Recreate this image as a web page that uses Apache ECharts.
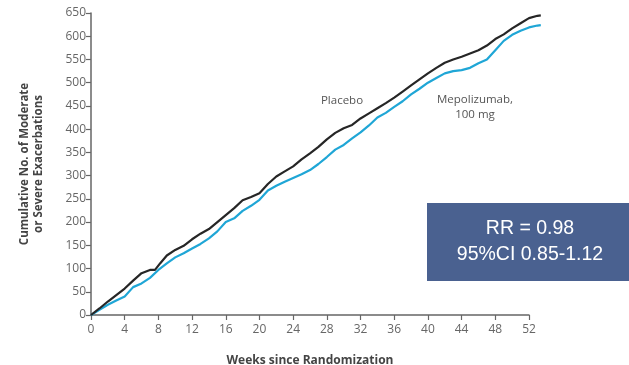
<!DOCTYPE html>
<html>
<head>
<meta charset="utf-8">
<script src="https://cdn.jsdelivr.net/npm/echarts@6/dist/echarts.min.js"></script>
<style>
html,body{margin:0;padding:0;background:#fff;}
#chart{width:629px;height:365px;}
</style>
</head>
<body>
<div id="chart"></div>
<script>
var placeboWeeks = [0,1,2,3,4,5,6,7,7.6,8.2,9,10,11,12,13,14,15,16,17,18,19,20,21,22,23,24,25,26,27,28,29,30,31,32,33,34,35,36,37,38,39,40,41,42,43,44,45,46,47,48,49,50,51,52,53,53.4];
var placeboValues = [0,14,29,43,57,74,90,97,97,111,128,140,149,163,175,185,200,215,230,247,254,262,282,298,309,320,335,348,362,378,392,402,409,423,434,445,456,468,481,494,507,520,532,543,550,556,563,570,580,594,604,617,628,639,644,645];
var mepoWeeks = [0,1,2,3,4,5,6,7,8,9,10,11,12,13,14,15,16,17,18,19,20,21,22,23,24,25,26,27,28,29,30,31,32,33,34,35,36,37,38,39,40,41,42,43,44,45,46,47,48,49,50,51,52,53,53.4];
var mepoValues = [0,11,22,31,40,60,68,80,97,111,124,133,143,153,165,180,200,208,224,235,248,268,278,287,295,303,312,325,340,356,366,380,393,408,425,435,448,460,475,487,500,510,520,525,527,532,542,550,570,590,603,612,619,623,624];
var xTicks = [0,4,8,12,16,20,24,28,32,36,40,44,48,52];
var yTicks = [0,50,100,150,200,250,300,350,400,450,500,550,600,650];
var followUpEnd = 53.4; // last plotted week (curves run slightly past the 52 tick)

function pairs(xs, ys){ return xs.map(function(x,i){ return [x, ys[i]]; }); }

var chart = echarts.init(document.getElementById('chart'));
var axisColor = '#666';
var labelFont = '"Open Sans", "Noto Sans", sans-serif';
var gLeft = 91, gTop = 13, gBottom = 50, gRight = 100;
var plotW = 629 - gLeft - gRight;
var extRight = 629 - gLeft - plotW * followUpEnd / xTicks[xTicks.length-1];
chart.setOption({
  animation: false,
  grid: [
    {left: gLeft, right: gRight, top: gTop, bottom: gBottom, containLabel: false, outerBoundsMode: 'none'},
    {left: gLeft, right: extRight, top: gTop, bottom: gBottom, containLabel: false, outerBoundsMode: 'none'}
  ],
  xAxis: [{
    gridIndex: 0, type: 'value', min: xTicks[0], max: xTicks[xTicks.length-1], interval: 4,
    name: 'Weeks since Randomization', nameLocation: 'middle', nameGap: 40,
    nameTextStyle: {fontFamily: labelFont, fontSize: 12, fontWeight: 'bold', color: '#444'},
    axisLine: {lineStyle: {color: axisColor, width: 1.5}},
    axisTick: {show: true, length: 5, lineStyle: {color: axisColor, width: 1.2}},
    axisLabel: {fontFamily: labelFont, fontSize: 12, color: '#666', margin: 9},
    splitLine: {show: false}
  }, {
    gridIndex: 1, type: 'value', min: 0, max: followUpEnd, show: false, splitLine: {show: false}
  }],
  yAxis: [{
    gridIndex: 0, type: 'value', min: yTicks[0], max: yTicks[yTicks.length-1], interval: 50,
    name: 'Cumulative No. of Moderate\nor Severe Exacerbations', nameLocation: 'middle', nameGap: 45, nameRotate: 90,
    nameTextStyle: {fontFamily: labelFont, fontSize: 11.5, fontWeight: 'bold', color: '#444', lineHeight: 14},
    axisLine: {show: true, lineStyle: {color: axisColor, width: 1.5}},
    axisTick: {show: true, length: 5, lineStyle: {color: axisColor, width: 1.2}},
    axisLabel: {fontFamily: labelFont, fontSize: 12, color: '#666', margin: 5},
    splitLine: {show: false}
  }, {
    gridIndex: 1, type: 'value', min: yTicks[0], max: yTicks[yTicks.length-1], show: false, splitLine: {show: false}
  }],
  series: [
    {name: 'Mepolizumab, 100 mg', type: 'line', xAxisIndex: 1, yAxisIndex: 1, data: pairs(mepoWeeks, mepoValues), showSymbol: false,
     lineStyle: {color: '#1fa6d6', width: 2.2}, z: 2},
    {name: 'Placebo', type: 'line', xAxisIndex: 1, yAxisIndex: 1, data: pairs(placeboWeeks, placeboValues), showSymbol: false,
     lineStyle: {color: '#262626', width: 2.2}, z: 3}
  ],
  graphic: [
    {type: 'text', x: 342, y: 101, style: {text: 'Placebo', font: '11.5px "Open Sans", sans-serif', fill: '#555', align: 'center', verticalAlign: 'middle'}},
    {type: 'text', x: 475, y: 100, style: {text: 'Mepolizumab,', font: '11.5px "Open Sans", sans-serif', fill: '#555', align: 'center', verticalAlign: 'middle'}},
    {type: 'text', x: 475, y: 115, style: {text: '100 mg', font: '11.5px "Open Sans", sans-serif', fill: '#555', align: 'center', verticalAlign: 'middle'}},
    {type: 'rect', x: 427, y: 203, shape: {x: 0, y: 0, width: 202, height: 78}, style: {fill: '#4a6190'}, z: 10},
    {type: 'text', x: 530, y: 229, z: 11, style: {text: 'RR = 0.98', font: '19.5px "Liberation Sans", Arial, sans-serif', fill: '#fff', align: 'center', verticalAlign: 'middle'}},
    {type: 'text', x: 530, y: 255, z: 11, style: {text: '95%CI 0.85-1.12', font: '19.5px "Liberation Sans", Arial, sans-serif', fill: '#fff', align: 'center', verticalAlign: 'middle'}}
  ]
});
</script>
</body>
</html>
